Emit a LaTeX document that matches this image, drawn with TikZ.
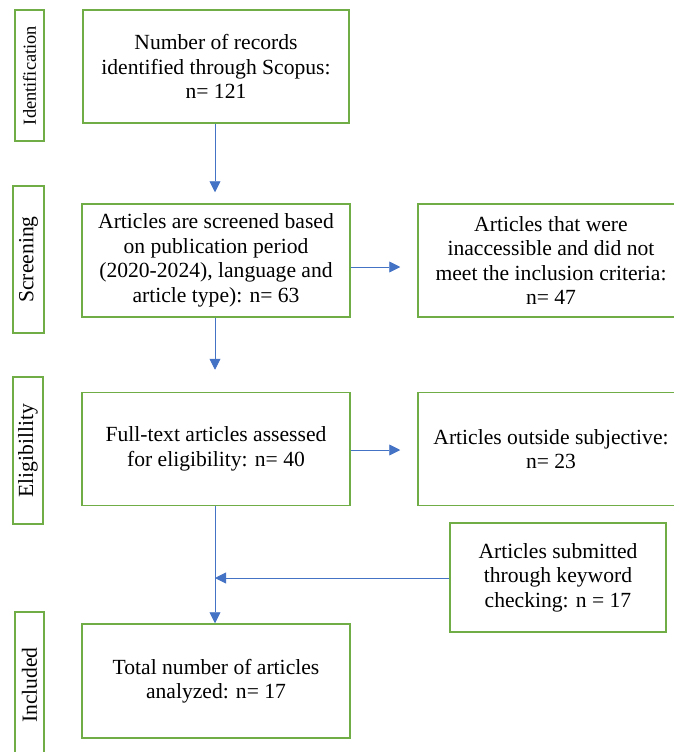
\documentclass[tikz,border=0pt]{standalone}
\usepackage{fontspec}
\setmainfont{Liberation Serif}
\usetikzlibrary{arrows.meta}
\definecolor{boxgreen}{RGB}{112,173,71}
\definecolor{arrblue}{RGB}{68,114,196}
\begin{document}
\begin{tikzpicture}[x=1pt,y=-1pt,
  box/.style={draw=boxgreen,line width=1.5pt,align=center,inner sep=0pt,
    font=\fontsize{21.6}{24.5}\selectfont},
  stage/.style={draw=boxgreen,line width=1.5pt,rotate=90,inner sep=0pt,
    minimum height=29pt,font=\fontsize{21.6}{24.5}\selectfont},
  arr/.style={draw=arrblue,line width=0.9pt,-{Triangle[length=11pt,width=11pt]}},
  ln/.style={draw=arrblue,line width=0.9pt}]
\path[use as bounding box] (0,0) rectangle (674,752);
\clip (0,0) rectangle (674,752);
% stage labels
\node[stage,minimum width=131pt,font=\fontsize{18.4}{22}\selectfont] (sid) at (29.5,75.5) {Identification};
\node[stage,minimum width=147pt,minimum height=31pt] (sscr) at (28.5,259.5) {Screening};
\node[stage,minimum width=147pt,minimum height=30pt] (sel) at (28,450.5) {Eligibillity};
\node[stage,minimum width=146pt] (sinc) at (29.5,685) {Included};
% main boxes
\node[box,minimum width=266pt,minimum height=113pt] (b1) at (216,66.5)
  {Number of records\\identified through Scopus:\\n= 121};
\node[box,minimum width=268pt,minimum height=113pt] (b2) at (216,260.5)
  {Articles are screened based\\on publication period\\(2020-2024), language and\\article type): n= 63};
\node[box,minimum width=266pt,minimum height=113pt] (b3) at (551,260.5)
  {Articles that were\\inaccessible and did not\\meet the inclusion criteria:\\n= 47};
\node[box,minimum width=268pt,minimum height=113pt] (b4) at (216,449)
  {Full-text articles assessed\\for eligibility: n= 40};
\node[box,minimum width=266pt,minimum height=113pt] (b5) at (551,449)
  {Articles outside subjective:\\n= 23};
\node[box,minimum width=216pt,minimum height=109pt] (b6) at (558,577.5)
  {Articles submitted\\through keyword\\checking: n = 17};
\node[box,minimum width=268pt,minimum height=114pt] (b7) at (216,681)
  {Total number of articles\\analyzed: n= 17};
% connectors
\draw[arr,shorten >=11pt] (b1.south -| 215,0) -- (b2.north -| 215,0);
\draw[arr,shorten >=22pt] (b2.south -| 215,0) -- (b4.north -| 215,0);
\draw[arr,shorten >=17pt] (b2.east |- 0,267) -- (b3.west |- 0,267);
\draw[arr,shorten >=17pt] (b4.east |- 0,450) -- (b5.west |- 0,450);
\draw[arr] (b4.south -| 215,0) -- (b7.north -| 215,0);
\coordinate (j) at (215,578);
\draw[arr] (b6.west |- j) -- (j);
\end{tikzpicture}
\end{document}
